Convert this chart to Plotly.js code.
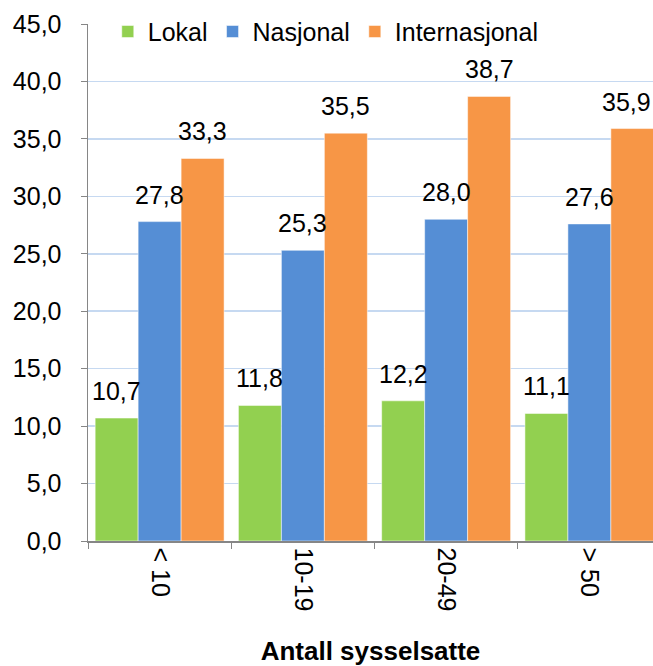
<!DOCTYPE html>
<html>
<head>
<meta charset="utf-8">
<script src="https://cdn.plot.ly/plotly-3.0.1.min.js"></script>
<style>html,body{margin:0;padding:0;overflow:hidden;background:#fff;}</style>
</head>
<body>
<div id="chart" style="width:653px;height:666px;"></div>
<script>
const categories = ['< 10', '10-19', '20-49', '> 50'];
const seriesNames = ['Lokal', 'Nasjonal', 'Internasjonal'];
const lokal = [10.7, 11.8, 12.2, 11.1];
const nasjonal = [27.8, 25.3, 28.0, 27.6];
const internasjonal = [33.3, 35.5, 38.7, 35.9];
const yTicks = [0, 5, 10, 15, 20, 25, 30, 35, 40, 45];

const font = 'Liberation Sans, Arial, sans-serif';
const colors = ['#92D050', '#558ED5', '#F79646'];
const values = [lokal, nasjonal, internasjonal];
const bargap = 0.1;

const data = values.map((y, k) => ({
  type: 'bar', name: seriesNames[k], x: categories, y: y,
  marker: {color: colors[k], line: {color: '#ffffff', width: 0.5}},
  hoverinfo: 'none'
}));

// value labels, positioned on the axis scales above each grouped bar
const barW = (1 - bargap) / values.length;
const annotations = [];
values.forEach((y, k) => {
  y.forEach((v, i) => {
    const isLast = (k === values.length - 1 && i === y.length - 1);
    annotations.push({
      x: i + (k - (values.length - 1) / 2) * barW, y: v,
      xref: 'x', yref: 'y', text: v.toFixed(1).replace('.', ','),
      showarrow: false, xanchor: 'center', xshift: isLast ? -6 : 0,
      yanchor: 'bottom', yshift: 11,
      font: {family: font, size: 25, color: '#000'}
    });
  });
});

const layout = {
  width: 653, height: 666,
  margin: {l: 88, r: 0, t: 24, b: 125},
  separators: ', ',
  paper_bgcolor: '#fff', plot_bgcolor: '#fff',
  font: {family: font, size: 25, color: '#000'},
  bargap: bargap, bargroupgap: 0,
  showlegend: true,
  legend: {orientation: 'h', x: 0.035, y: 0.985, xanchor: 'left', yanchor: 'middle',
    bgcolor: '#ffffff', font: {family: font, size: 25, color: '#000'},
    itemwidth: 30, tracegroupgap: 0, traceorder: 'normal'},
  annotations: annotations,
  xaxis: {
    type: 'category', range: [-0.5, 3.444], fixedrange: true,
    tickangle: 90, tickson: 'boundaries', ticks: 'outside', ticklen: 6, tickcolor: '#868686',
    showline: true, linecolor: '#868686', linewidth: 1.5,
    tickfont: {family: font, size: 25, color: '#000'},
    title: {text: '<b>Antall sysselsatte</b>', font: {family: font, size: 26, color: '#000'}, standoff: 37}
  },
  yaxis: {
    range: [0, 45], tickvals: yTicks, tickformat: '.1f',
    ticks: 'outside', ticklen: 6, tickcolor: '#868686',
    showline: true, linecolor: '#868686', linewidth: 1.5,
    showgrid: true, gridcolor: '#C6D9F1', gridwidth: 1.5, zeroline: false,
    ticklabelstandoff: 14,
    tickfont: {family: font, size: 25, color: '#000'}
  }
};
Plotly.newPlot('chart', data, layout, {displayModeBar: false, staticPlot: true});
</script>
</body>
</html>
